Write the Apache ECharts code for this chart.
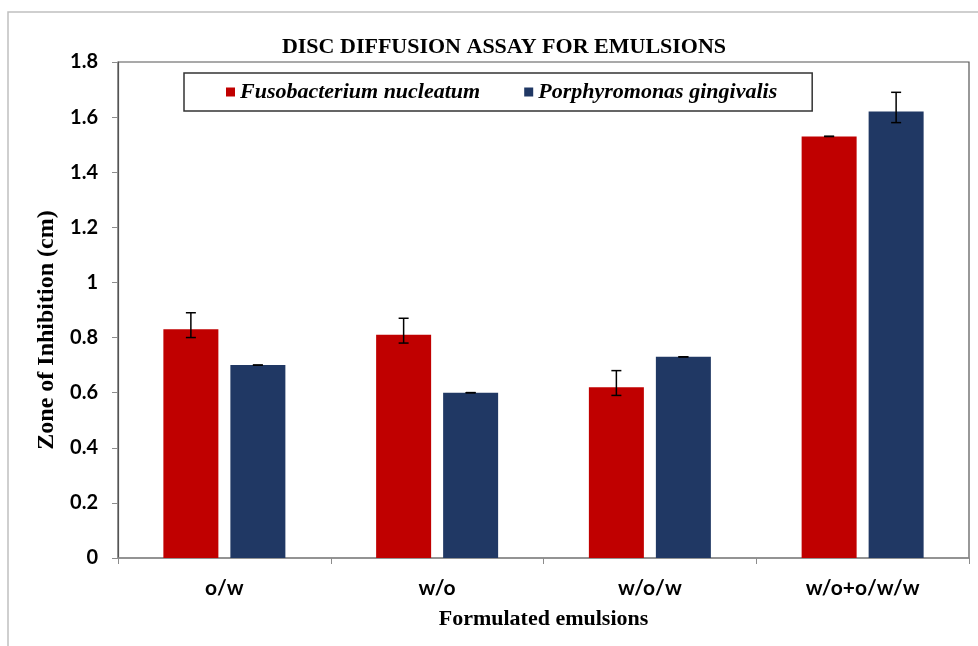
<!DOCTYPE html>
<html>
<head>
<meta charset="utf-8">
<script src="https://cdn.jsdelivr.net/npm/echarts@6/dist/echarts.min.js"></script>
<style>html,body{margin:0;padding:0;background:#fff}#c{width:978px;height:646px}</style>
</head>
<body>
<div id="c"></div>
<script>
const categories = ['o/w', 'w/o', 'w/o/w', 'w/o+o/w/w'];
const seriesNames = ['Fusobacterium nucleatum', 'Porphyromonas gingivalis'];
const fusoValues = [0.83, 0.81, 0.62, 1.53];
const fusoLow = [0.80, 0.78, 0.59, 1.53];
const fusoHigh = [0.89, 0.87, 0.68, 1.53];
const porphValues = [0.70, 0.60, 0.73, 1.62];
const porphLow = [0.70, 0.60, 0.73, 1.58];
const porphHigh = [0.70, 0.60, 0.73, 1.69];
const yTicks = ['0', '0.2', '0.4', '0.6', '0.8', '1', '1.2', '1.4', '1.6', '1.8'];

const BAR_W = 55, GAP = 12;
const chart = echarts.init(document.getElementById('c'), null, {renderer: 'canvas'});

function errSeries(low, high, offset) {
  return {
    type: 'custom',
    z: 10,
    silent: true,
    data: categories.map((c, i) => [i, low[i], high[i]]),
    encode: {x: 0, y: [1, 2]},
    renderItem: function (params, api) {
      const lo = api.coord([api.value(0), api.value(1)]);
      const hi = api.coord([api.value(0), api.value(2)]);
      const x = lo[0] + offset;
      const cap = 5;
      const st = {stroke: '#000', lineWidth: 1.5};
      return {
        type: 'group',
        children: [
          {type: 'line', shape: {x1: x, y1: lo[1], x2: x, y2: hi[1]}, style: st},
          {type: 'line', shape: {x1: x - cap, y1: lo[1], x2: x + cap, y2: lo[1]}, style: st},
          {type: 'line', shape: {x1: x - cap, y1: hi[1], x2: x + cap, y2: hi[1]}, style: st}
        ]
      };
    }
  };
}

const off = (BAR_W + GAP) / 2;

chart.setOption({
  animation: false,
  backgroundColor: '#fff',
  graphic: [{
    type: 'rect', z: -10,
    shape: {x: 8, y: 12, width: 1000, height: 1000},
    style: {fill: 'none', stroke: '#c0c0c0', lineWidth: 1.5}
  }],
  title: {
    text: 'DISC DIFFUSION ASSAY FOR EMULSIONS',
    left: 499, top: 31, textAlign: 'center',
    textStyle: {fontFamily: 'Liberation Serif', fontWeight: 'bold', fontSize: 22, color: '#000'}
  },
  legend: {
    data: seriesNames,
    left: 184, top: 73,
    orient: 'horizontal',
    padding: [8, 35, 8, 42],
    itemGap: 44,
    itemWidth: 9, itemHeight: 9,
    icon: 'rect',
    borderColor: '#333', borderWidth: 1.5,
    textStyle: {fontFamily: 'Liberation Serif', fontStyle: 'italic', fontWeight: 'bold', fontSize: 22, color: '#000'}
  },
  grid: {
    left: 118, right: 9, top: 62, bottom: 88,
    show: true, borderColor: '#555', borderWidth: 1.2
  },
  xAxis: {
    type: 'category',
    data: categories,
    name: 'Formulated emulsions',
    nameLocation: 'middle',
    nameGap: 50,
    nameTextStyle: {fontFamily: 'Liberation Serif', fontWeight: 'bold', fontSize: 22, color: '#000'},
    axisLine: {lineStyle: {color: '#8c8c8c', width: 1.5}},
    axisTick: {show: true, length: 6, interval: 0, lineStyle: {color: '#8c8c8c'}},
    axisLabel: {fontFamily: 'Lato', fontWeight: 'bold', fontSize: 21, color: '#000', margin: 20}
  },
  yAxis: {
    type: 'value',
    min: 0, max: 1.8, interval: 0.2,
    name: 'Zone of Inhibition (cm)',
    nameLocation: 'middle',
    nameGap: 57,
    nameTextStyle: {fontFamily: 'Liberation Serif', fontWeight: 'bold', fontSize: 24, color: '#000', padding: [0, 40, 0, 0]},
    splitLine: {show: false},
    axisLine: {show: true, lineStyle: {color: '#555', width: 1.2}},
    axisTick: {show: true, length: 6, lineStyle: {color: '#8c8c8c'}},
    axisLabel: {
      fontFamily: 'Lato', fontWeight: 'bold', fontSize: 20, color: '#000', margin: 20,
      formatter: function (v) { return yTicks[Math.round(v / 0.2)]; }
    }
  },
  series: [
    {name: seriesNames[0], type: 'bar', data: fusoValues, barWidth: BAR_W, barGap: (GAP / BAR_W * 100) + '%',
     itemStyle: {color: '#C00000'}},
    {name: seriesNames[1], type: 'bar', data: porphValues, barWidth: BAR_W,
     itemStyle: {color: '#203864'}},
    errSeries(fusoLow, fusoHigh, -off),
    errSeries(porphLow, porphHigh, off)
  ]
});
</script>
</body>
</html>
